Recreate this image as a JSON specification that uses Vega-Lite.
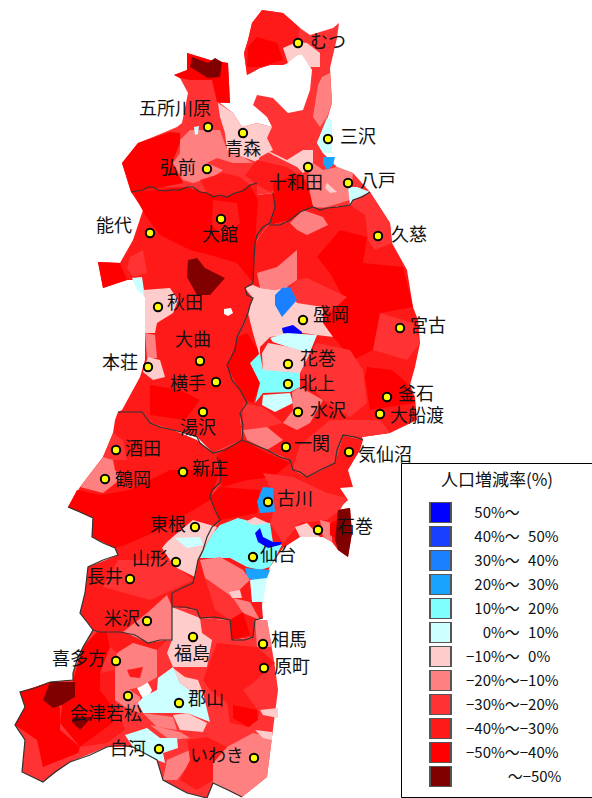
{"$schema":"https://vega.github.io/schema/vega-lite/v6.json","width":592,"height":798,"padding":0,"autosize":"none","background":"white","view":{"stroke":null},
"projection":{"type":"identity","scale":1,"translate":[0,0]},
"config":{"view":{"stroke":null},"font":"Noto Sans CJK JP"},
"datasets":{
"regions":[
{"type":"Feature","properties":{"band":"-30--20","name":"Aomori"},"geometry":{"type":"Polygon","coordinates":[[[131,192],[122,163],[138,143],[153,137],[177,127],[182,123],[188,93],[180,78],[174,75],[187,70],[187,53],[210,60],[228,63],[230,103],[220,103],[233,113],[242,127],[257,123],[272,127],[267,117],[253,105],[257,95],[273,98],[288,113],[303,110],[310,90],[312,70],[303,55],[297,55],[288,62],[283,65],[270,65],[260,68],[247,75],[244,53],[248,40],[252,23],[262,10],[283,13],[300,28],[310,35],[333,28],[339,23],[337,38],[330,68],[332,103],[327,120],[317,143],[323,153],[337,167],[353,173],[370,192],[350,205],[327,208],[313,207],[290,220],[270,225],[275,207],[273,193],[257,195],[257,183],[250,185],[227,197],[207,193],[187,187],[153,187],[131,192]]]}},
{"type":"Feature","properties":{"band":"-40--30","name":"Iwate"},"geometry":{"type":"Polygon","coordinates":[[[370,192],[390,223],[392,243],[407,270],[413,307],[418,320],[420,343],[415,367],[410,385],[415,397],[417,420],[390,433],[362,437],[363,440],[343,435],[335,463],[307,477],[293,470],[290,460],[267,450],[242,440],[240,413],[247,403],[227,367],[237,337],[248,313],[253,298],[245,288],[253,283],[255,243],[268,225],[270,225],[290,220],[313,207],[327,208],[350,205],[370,192]]]}},
{"type":"Feature","properties":{"band":"-40--30","name":"Akita"},"geometry":{"type":"Polygon","coordinates":[[[131,192],[143,210],[133,240],[120,263],[98,262],[103,288],[127,280],[133,280],[145,297],[145,360],[140,377],[122,410],[118,412],[142,412],[150,423],[173,430],[197,437],[213,453],[242,440],[240,413],[247,403],[227,367],[237,337],[248,313],[253,298],[245,288],[253,283],[255,243],[268,225],[270,225],[275,207],[273,193],[257,195],[257,183],[250,185],[227,197],[207,193],[187,187],[153,187],[131,192]],[[224,309],[231,308],[233,313],[228,316],[224,314],[224,309]]]}},
{"type":"Feature","properties":{"band":"-40--30","name":"Miyagi"},"geometry":{"type":"Polygon","coordinates":[[[363,440],[360,450],[348,470],[353,487],[340,488],[348,500],[337,510],[350,508],[352,533],[348,557],[338,550],[332,542],[323,537],[300,537],[283,548],[270,567],[263,583],[262,607],[263,618],[255,620],[253,637],[232,640],[230,620],[200,618],[197,610],[172,607],[172,593],[193,583],[198,560],[207,537],[220,520],[210,497],[220,483],[217,457],[242,440],[267,450],[290,460],[293,470],[307,477],[335,463],[343,435],[363,440]]]}},
{"type":"Feature","properties":{"band":"-40--30","name":"Yamagata"},"geometry":{"type":"Polygon","coordinates":[[[118,412],[115,420],[113,433],[103,457],[80,487],[68,507],[93,518],[92,537],[115,548],[118,555],[88,567],[85,593],[80,613],[93,630],[100,632],[120,632],[148,643],[172,640],[172,607],[172,593],[193,583],[198,560],[207,537],[220,520],[210,497],[220,483],[217,457],[242,440],[213,453],[197,440],[173,430],[150,423],[142,412],[118,412]]]}},
{"type":"Feature","properties":{"band":"-30--20","name":"Fukushima"},"geometry":{"type":"Polygon","coordinates":[[[93,630],[83,647],[73,673],[73,680],[50,682],[20,692],[25,707],[15,725],[25,740],[22,772],[43,782],[70,762],[107,747],[133,747],[157,760],[163,780],[187,793],[207,798],[213,783],[242,797],[267,777],[272,737],[278,690],[275,667],[267,620],[255,620],[253,637],[232,640],[230,620],[200,618],[197,610],[172,607],[172,640],[148,643],[120,632],[100,632],[93,630]],[[137,688],[147,681],[152,690],[148,698],[142,697],[137,688]]]}},
{"type":"Feature","properties":{"band":"-40--30"},"geometry":{"type":"Polygon","coordinates":[[[262,10],[283,13],[300,28],[297,42],[283,48],[288,63],[283,65],[270,65],[260,68],[247,75],[244,53],[248,40],[252,23],[262,10]]]}},
{"type":"Feature","properties":{"band":"-50--40"},"geometry":{"type":"Polygon","coordinates":[[[257,37],[248,47],[247,67],[260,67],[283,60],[277,43],[257,37]]]}},
{"type":"Feature","properties":{"band":"-10-0"},"geometry":{"type":"Polygon","coordinates":[[[283,48],[297,42],[307,43],[320,53],[320,67],[310,67],[302,55],[297,55],[288,63],[283,48]]]}},
{"type":"Feature","properties":{"band":"-50--40"},"geometry":{"type":"Polygon","coordinates":[[[174,75],[187,70],[187,53],[210,60],[228,63],[230,103],[217,102],[212,80],[190,80],[180,78],[174,75]]]}},
{"type":"Feature","properties":{"band":"-50-"},"geometry":{"type":"Polygon","coordinates":[[[192,57],[190,67],[208,78],[220,77],[222,62],[215,58],[208,63],[200,60],[192,57]]]}},
{"type":"Feature","properties":{"band":"-50--40"},"geometry":{"type":"Polygon","coordinates":[[[131,192],[122,163],[138,143],[170,132],[180,133],[180,143],[172,163],[183,183],[163,187],[131,192]]]}},
{"type":"Feature","properties":{"band":"-20--10"},"geometry":{"type":"Polygon","coordinates":[[[180,140],[190,130],[220,130],[227,150],[243,157],[253,163],[233,163],[217,158],[207,163],[223,170],[213,177],[193,183],[183,180],[173,163],[180,153],[180,140]]]}},
{"type":"Feature","properties":{"band":"-10-0"},"geometry":{"type":"Polygon","coordinates":[[[218,103],[233,113],[242,127],[257,123],[272,127],[267,138],[273,150],[260,157],[257,162],[243,157],[227,150],[225,133],[220,117],[218,103]]]}},
{"type":"Feature","properties":{"band":"-10-0"},"geometry":{"type":"Polygon","coordinates":[[[260,147],[287,160],[303,150],[313,150],[313,163],[303,173],[297,167],[273,155],[260,147]]]}},
{"type":"Feature","properties":{"band":"0-10"},"geometry":{"type":"Polygon","coordinates":[[[194,127],[199,126],[198,134],[195,135],[194,127]]]}},
{"type":"Feature","properties":{"band":"-40--30"},"geometry":{"type":"Polygon","coordinates":[[[200,180],[223,173],[240,177],[250,185],[227,197],[207,193],[200,180]]]}},
{"type":"Feature","properties":{"band":"-40--30"},"geometry":{"type":"Polygon","coordinates":[[[257,160],[287,167],[300,177],[270,192],[257,185],[245,175],[257,160]]]}},
{"type":"Feature","properties":{"band":"-20--10"},"geometry":{"type":"Polygon","coordinates":[[[313,117],[318,85],[322,77],[330,73],[332,103],[327,117],[320,127],[313,117]]]}},
{"type":"Feature","properties":{"band":"-20--10"},"geometry":{"type":"Polygon","coordinates":[[[307,177],[313,163],[323,170],[337,167],[353,173],[350,200],[327,207],[313,207],[307,177]]]}},
{"type":"Feature","properties":{"band":"-10-0"},"geometry":{"type":"Polygon","coordinates":[[[327,183],[337,192],[330,193],[325,188],[327,183]]]}},
{"type":"Feature","properties":{"band":"0-10"},"geometry":{"type":"Polygon","coordinates":[[[348,187],[357,187],[370,192],[353,200],[350,205],[348,187]]]}},
{"type":"Feature","properties":{"band":"0-10"},"geometry":{"type":"Polygon","coordinates":[[[327,118],[332,120],[332,153],[323,153],[317,143],[322,130],[327,118]]]}},
{"type":"Feature","properties":{"band":"20-30"},"geometry":{"type":"Polygon","coordinates":[[[323,157],[335,157],[333,165],[327,170],[323,163],[323,157]]]}},
{"type":"Feature","properties":{"band":"-50--40"},"geometry":{"type":"Polygon","coordinates":[[[273,183],[300,173],[307,183],[313,207],[290,220],[270,225],[275,207],[273,183]]]}},
{"type":"Feature","properties":{"band":"-50--40"},"geometry":{"type":"Polygon","coordinates":[[[133,192],[187,187],[207,193],[227,197],[250,185],[258,200],[255,243],[253,283],[237,263],[210,255],[190,250],[160,235],[145,215],[133,192]]]}},
{"type":"Feature","properties":{"band":"-40--30"},"geometry":{"type":"Polygon","coordinates":[[[213,200],[237,203],[240,223],[223,237],[212,225],[213,200]]]}},
{"type":"Feature","properties":{"band":"-30--20"},"geometry":{"type":"Polygon","coordinates":[[[130,257],[143,250],[147,273],[133,277],[127,268],[130,257]]]}},
{"type":"Feature","properties":{"band":"-50--40"},"geometry":{"type":"Polygon","coordinates":[[[98,262],[120,263],[127,280],[103,288],[98,262]]]}},
{"type":"Feature","properties":{"band":"-50-"},"geometry":{"type":"Polygon","coordinates":[[[188,260],[197,258],[205,268],[225,278],[210,295],[197,295],[187,277],[188,260]]]}},
{"type":"Feature","properties":{"band":"0-10"},"geometry":{"type":"Polygon","coordinates":[[[132,278],[142,277],[145,297],[137,290],[132,278]]]}},
{"type":"Feature","properties":{"band":"-10-0"},"geometry":{"type":"Polygon","coordinates":[[[143,290],[170,288],[178,300],[173,313],[157,323],[155,333],[145,333],[145,297],[143,290]]]}},
{"type":"Feature","properties":{"band":"-20--10"},"geometry":{"type":"Polygon","coordinates":[[[145,333],[155,335],[157,358],[147,358],[145,333]]]}},
{"type":"Feature","properties":{"band":"-10-0"},"geometry":{"type":"Polygon","coordinates":[[[148,357],[160,360],[165,377],[153,380],[143,372],[148,357]]]}},
{"type":"Feature","properties":{"band":"-50--40"},"geometry":{"type":"Polygon","coordinates":[[[150,385],[180,390],[200,400],[185,420],[150,415],[150,385]]]}},
{"type":"Feature","properties":{"band":"-30--20"},"geometry":{"type":"Polygon","coordinates":[[[350,205],[370,192],[390,223],[392,243],[375,250],[368,240],[365,215],[350,205]]]}},
{"type":"Feature","properties":{"band":"-50--40"},"geometry":{"type":"Polygon","coordinates":[[[317,257],[340,230],[367,237],[363,263],[403,267],[413,307],[380,313],[373,350],[353,360],[333,337],[323,323],[343,297],[330,273],[317,257]]]}},
{"type":"Feature","properties":{"band":"-20--10"},"geometry":{"type":"Polygon","coordinates":[[[290,223],[303,210],[323,217],[328,225],[307,235],[297,230],[290,223]]]}},
{"type":"Feature","properties":{"band":"-20--10"},"geometry":{"type":"Polygon","coordinates":[[[257,273],[277,267],[297,250],[297,280],[287,287],[275,290],[260,288],[257,273]]]}},
{"type":"Feature","properties":{"band":"-30--20"},"geometry":{"type":"Polygon","coordinates":[[[297,280],[307,278],[347,297],[333,310],[297,303],[290,287],[297,280]]]}},
{"type":"Feature","properties":{"band":"-30--20"},"geometry":{"type":"Polygon","coordinates":[[[317,343],[350,350],[363,370],[367,403],[350,417],[323,400],[300,373],[310,353],[317,343]]]}},
{"type":"Feature","properties":{"band":"-30--20"},"geometry":{"type":"Polygon","coordinates":[[[380,313],[413,323],[420,343],[407,360],[373,350],[380,313]]]}},
{"type":"Feature","properties":{"band":"-50--40"},"geometry":{"type":"Polygon","coordinates":[[[367,367],[392,370],[407,383],[415,403],[370,410],[365,377],[367,367]]]}},
{"type":"Feature","properties":{"band":"-30--20"},"geometry":{"type":"Polygon","coordinates":[[[330,420],[380,420],[390,433],[362,437],[343,435],[335,463],[307,477],[293,468],[300,445],[330,420]]]}},
{"type":"Feature","properties":{"band":"-10-0"},"geometry":{"type":"Polygon","coordinates":[[[245,288],[253,285],[260,288],[275,290],[287,287],[297,303],[323,307],[323,323],[333,337],[317,335],[303,333],[270,337],[260,347],[260,357],[253,333],[248,313],[253,298],[245,288]]]}},
{"type":"Feature","properties":{"band":"30-40"},"geometry":{"type":"Polygon","coordinates":[[[275,295],[282,288],[290,287],[297,300],[290,308],[282,317],[275,305],[275,295]]]}},
{"type":"Feature","properties":{"band":"50+"},"geometry":{"type":"Polygon","coordinates":[[[282,328],[293,325],[302,332],[302,336],[290,335],[283,333],[282,328]]]}},
{"type":"Feature","properties":{"band":"0-10"},"geometry":{"type":"Polygon","coordinates":[[[270,338],[287,333],[317,335],[310,352],[297,350],[273,342],[270,338]]]}},
{"type":"Feature","properties":{"band":"-10-0"},"geometry":{"type":"Polygon","coordinates":[[[268,343],[290,347],[310,353],[300,373],[263,373],[262,353],[268,343]]]}},
{"type":"Feature","properties":{"band":"-50--40"},"geometry":{"type":"Polygon","coordinates":[[[247,333],[258,350],[260,383],[253,403],[245,400],[227,367],[237,337],[247,333]]]}},
{"type":"Feature","properties":{"band":"10-20"},"geometry":{"type":"Polygon","coordinates":[[[260,353],[263,370],[300,373],[300,387],[290,392],[263,393],[255,403],[260,383],[250,363],[260,353]]]}},
{"type":"Feature","properties":{"band":"0-10"},"geometry":{"type":"Polygon","coordinates":[[[263,395],[290,393],[293,403],[275,412],[262,405],[263,395]]]}},
{"type":"Feature","properties":{"band":"-20--10"},"geometry":{"type":"Polygon","coordinates":[[[292,392],[300,387],[323,400],[310,423],[297,430],[283,423],[293,410],[292,392]]]}},
{"type":"Feature","properties":{"band":"-30--20"},"geometry":{"type":"Polygon","coordinates":[[[243,403],[263,407],[283,423],[267,427],[243,430],[243,403]]]}},
{"type":"Feature","properties":{"band":"-20--10"},"geometry":{"type":"Polygon","coordinates":[[[243,430],[267,427],[283,440],[267,450],[247,440],[243,430]]]}},
{"type":"Feature","properties":{"band":"-50--40"},"geometry":{"type":"Polygon","coordinates":[[[217,455],[242,440],[267,453],[290,463],[273,477],[247,480],[222,487],[217,455]]]}},
{"type":"Feature","properties":{"band":"-50--40"},"geometry":{"type":"Polygon","coordinates":[[[220,487],[260,490],[257,513],[237,517],[220,520],[210,497],[220,487]]]}},
{"type":"Feature","properties":{"band":"-30--20"},"geometry":{"type":"Polygon","coordinates":[[[263,473],[293,477],[327,493],[347,498],[340,510],[327,520],[300,523],[283,543],[270,523],[273,513],[275,497],[263,473]]]}},
{"type":"Feature","properties":{"band":"20-30"},"geometry":{"type":"Polygon","coordinates":[[[263,487],[273,488],[275,512],[260,513],[257,502],[263,487]]]}},
{"type":"Feature","properties":{"band":"-20--10"},"geometry":{"type":"Polygon","coordinates":[[[320,520],[332,523],[332,542],[323,537],[320,520]]]}},
{"type":"Feature","properties":{"band":"-10-0"},"geometry":{"type":"Polygon","coordinates":[[[295,527],[307,523],[320,537],[300,537],[295,527]]]}},
{"type":"Feature","properties":{"band":"-50--40"},"geometry":{"type":"Polygon","coordinates":[[[330,523],[338,520],[337,540],[330,535],[330,523]]]}},
{"type":"Feature","properties":{"band":"-50-"},"geometry":{"type":"Polygon","coordinates":[[[338,510],[350,508],[352,533],[348,557],[338,550],[335,540],[338,510]]]}},
{"type":"Feature","properties":{"band":"10-20"},"geometry":{"type":"Polygon","coordinates":[[[213,533],[220,525],[238,518],[253,522],[270,523],[273,543],[282,545],[270,567],[260,570],[247,567],[230,558],[200,558],[207,543],[213,533]]]}},
{"type":"Feature","properties":{"band":"-10-0"},"geometry":{"type":"Polygon","coordinates":[[[245,522],[255,517],[268,523],[255,525],[245,522]]]}},
{"type":"Feature","properties":{"band":"50+"},"geometry":{"type":"Polygon","coordinates":[[[255,533],[260,528],[263,537],[273,542],[282,542],[280,545],[268,548],[258,542],[255,533]]]}},
{"type":"Feature","properties":{"band":"20-30"},"geometry":{"type":"Polygon","coordinates":[[[245,568],[270,570],[267,578],[257,583],[247,577],[245,568]]]}},
{"type":"Feature","properties":{"band":"0-10"},"geometry":{"type":"Polygon","coordinates":[[[250,580],[267,578],[263,602],[252,602],[250,580]]]}},
{"type":"Feature","properties":{"band":"-20--10"},"geometry":{"type":"Polygon","coordinates":[[[200,560],[220,557],[243,570],[250,580],[232,597],[205,578],[200,560]]]}},
{"type":"Feature","properties":{"band":"-30--20"},"geometry":{"type":"Polygon","coordinates":[[[205,578],[232,597],[243,613],[230,620],[215,610],[205,578]]]}},
{"type":"Feature","properties":{"band":"-20--10"},"geometry":{"type":"Polygon","coordinates":[[[233,598],[250,602],[260,620],[243,613],[233,598]]]}},
{"type":"Feature","properties":{"band":"-10-0"},"geometry":{"type":"Polygon","coordinates":[[[229,592],[240,590],[242,598],[232,598],[229,592]]]}},
{"type":"Feature","properties":{"band":"-50--40"},"geometry":{"type":"Polygon","coordinates":[[[230,620],[243,612],[250,635],[232,640],[230,620]]]}},
{"type":"Feature","properties":{"band":"-30--20"},"geometry":{"type":"Polygon","coordinates":[[[113,433],[123,440],[127,460],[113,460],[103,457],[113,433]]]}},
{"type":"Feature","properties":{"band":"-20--10"},"geometry":{"type":"Polygon","coordinates":[[[103,457],[113,460],[115,470],[122,478],[103,493],[80,487],[103,457]]]}},
{"type":"Feature","properties":{"band":"-50--40"},"geometry":{"type":"Polygon","coordinates":[[[77,490],[100,495],[130,490],[170,470],[220,470],[210,500],[160,530],[125,545],[115,548],[92,537],[93,518],[68,507],[77,490]]]}},
{"type":"Feature","properties":{"band":"-30--20"},"geometry":{"type":"Polygon","coordinates":[[[118,560],[170,560],[193,580],[172,590],[150,600],[103,587],[118,560]]]}},
{"type":"Feature","properties":{"band":"-10-0"},"geometry":{"type":"Polygon","coordinates":[[[193,520],[217,527],[207,543],[198,560],[195,577],[177,568],[170,560],[162,548],[167,542],[175,535],[193,520]]]}},
{"type":"Feature","properties":{"band":"0-10"},"geometry":{"type":"Polygon","coordinates":[[[175,538],[200,537],[203,545],[187,548],[175,538]]]}},
{"type":"Feature","properties":{"band":"-20--10"},"geometry":{"type":"Polygon","coordinates":[[[123,632],[147,613],[167,595],[172,607],[172,640],[148,643],[123,632]]]}},
{"type":"Feature","properties":{"band":"-50--40"},"geometry":{"type":"Polygon","coordinates":[[[20,692],[50,682],[43,700],[60,707],[60,730],[80,747],[78,753],[43,767],[37,740],[15,725],[25,707],[20,692]]]}},
{"type":"Feature","properties":{"band":"-50--40"},"geometry":{"type":"Polygon","coordinates":[[[83,647],[97,632],[107,632],[110,647],[100,673],[100,690],[110,703],[113,723],[80,747],[60,723],[62,705],[75,697],[73,680],[83,647]]]}},
{"type":"Feature","properties":{"band":"-50-"},"geometry":{"type":"Polygon","coordinates":[[[50,682],[75,682],[75,697],[62,705],[53,708],[43,700],[50,682]]]}},
{"type":"Feature","properties":{"band":"-50-"},"geometry":{"type":"Polygon","coordinates":[[[73,717],[92,717],[80,730],[72,722],[73,717]]]}},
{"type":"Feature","properties":{"band":"-40--30"},"geometry":{"type":"Polygon","coordinates":[[[100,673],[115,670],[115,700],[125,730],[107,743],[80,747],[113,723],[110,703],[100,690],[100,673]]]}},
{"type":"Feature","properties":{"band":"-40--30"},"geometry":{"type":"Polygon","coordinates":[[[107,632],[123,632],[148,643],[167,640],[157,650],[133,643],[117,653],[110,647],[107,632]]]}},
{"type":"Feature","properties":{"band":"-20--10"},"geometry":{"type":"Polygon","coordinates":[[[117,653],[133,643],[157,650],[157,677],[140,687],[127,690],[115,700],[115,670],[117,653]]]}},
{"type":"Feature","properties":{"band":"-40--30"},"geometry":{"type":"Polygon","coordinates":[[[127,670],[143,667],[140,678],[130,677],[127,670]]]}},
{"type":"Feature","properties":{"band":"-10-0"},"geometry":{"type":"Polygon","coordinates":[[[172,607],[200,618],[202,633],[212,640],[207,667],[173,667],[167,653],[172,640],[172,607]]]}},
{"type":"Feature","properties":{"band":"-20--10"},"geometry":{"type":"Polygon","coordinates":[[[118,688],[127,688],[140,697],[140,713],[125,707],[115,700],[118,688]]]}},
{"type":"Feature","properties":{"band":"-10-0"},"geometry":{"type":"Polygon","coordinates":[[[173,668],[185,677],[198,680],[203,693],[190,690],[180,683],[173,668]]]}},
{"type":"Feature","properties":{"band":"0-10"},"geometry":{"type":"Polygon","coordinates":[[[158,678],[173,667],[180,683],[190,690],[203,693],[210,722],[187,713],[167,713],[143,713],[138,703],[143,697],[157,690],[158,678]]]}},
{"type":"Feature","properties":{"band":"-10-0"},"geometry":{"type":"Polygon","coordinates":[[[173,715],[187,713],[207,723],[203,732],[180,730],[173,715]]]}},
{"type":"Feature","properties":{"band":"-20--10"},"geometry":{"type":"Polygon","coordinates":[[[143,713],[173,717],[177,730],[157,727],[143,713]]]}},
{"type":"Feature","properties":{"band":"-20--10"},"geometry":{"type":"Polygon","coordinates":[[[150,725],[180,732],[190,738],[170,740],[150,725]]]}},
{"type":"Feature","properties":{"band":"0-10"},"geometry":{"type":"Polygon","coordinates":[[[125,735],[147,728],[160,738],[177,738],[178,748],[163,753],[165,763],[157,760],[133,747],[125,735]]]}},
{"type":"Feature","properties":{"band":"-20--10"},"geometry":{"type":"Polygon","coordinates":[[[227,747],[253,733],[272,737],[267,777],[242,797],[213,783],[213,763],[227,747]]]}},
{"type":"Feature","properties":{"band":"-20--10"},"geometry":{"type":"Polygon","coordinates":[[[167,760],[190,750],[190,763],[177,780],[163,780],[167,760]]]}},
{"type":"Feature","properties":{"band":"-40--30"},"geometry":{"type":"Polygon","coordinates":[[[187,740],[207,737],[227,747],[213,763],[213,780],[197,790],[180,780],[190,760],[187,740]]]}},
{"type":"Feature","properties":{"band":"-40--30"},"geometry":{"type":"Polygon","coordinates":[[[203,680],[217,643],[257,647],[275,663],[253,683],[243,690],[260,713],[250,727],[230,723],[227,703],[210,690],[203,680]]]}},
{"type":"Feature","properties":{"band":"-50--40"},"geometry":{"type":"Polygon","coordinates":[[[233,705],[257,710],[258,720],[248,727],[233,718],[233,705]]]}},
{"type":"Feature","properties":{"band":"-10-0"},"geometry":{"type":"Polygon","coordinates":[[[260,710],[278,708],[278,718],[263,715],[260,710]]]}},
{"type":"Feature","properties":{"band":"-10-0"},"geometry":{"type":"Polygon","coordinates":[[[255,730],[272,732],[272,740],[263,738],[255,730]]]}},
{"type":"Feature","properties":{"band":"-20--10"},"geometry":{"type":"Polygon","coordinates":[[[255,620],[267,620],[272,647],[257,647],[255,620]]]}}
],
"borders":[
{"type":"Feature","properties":{"name":"Aomori-Akita"},"geometry":{"type":"LineString","coordinates":[[131,192],[137,191],[143,190],[148,187],[153,187],[158,190],[165,191],[172,190],[180,190],[187,187],[193,187],[200,192],[207,193],[213,197],[220,195],[227,197],[235,193],[243,191],[250,185],[257,183]]}},
{"type":"Feature","properties":{"name":"Akita-Iwate"},"geometry":{"type":"LineString","coordinates":[[273,193],[275,207],[270,223],[263,227],[257,235],[255,243],[254,260],[253,283],[245,288],[247,295],[253,298],[250,305],[248,313],[243,325],[237,337],[235,350],[227,365],[232,380],[240,390],[247,403],[240,413],[243,425],[242,440]]}},
{"type":"Feature","properties":{"name":"Aomori-Iwate"},"geometry":{"type":"LineString","coordinates":[[270,225],[280,225],[290,220],[300,212],[313,207],[320,210],[327,208],[338,207],[350,205],[353,200],[362,197],[370,192]]}},
{"type":"Feature","properties":{"name":"Akita-Yamagata"},"geometry":{"type":"LineString","coordinates":[[118,412],[130,412],[142,412],[150,423],[160,427],[173,430],[185,433],[197,437],[200,443],[213,453],[225,450],[242,440]]}},
{"type":"Feature","properties":{"name":"Iwate-Miyagi"},"geometry":{"type":"LineString","coordinates":[[242,440],[255,445],[267,450],[280,457],[290,460],[293,470],[300,472],[307,477],[320,470],[335,463],[337,450],[343,435],[355,437],[363,440]]}},
{"type":"Feature","properties":{"name":"Yamagata-Miyagi"},"geometry":{"type":"LineString","coordinates":[[217,457],[220,470],[220,483],[212,490],[210,497],[215,510],[220,520],[212,527],[207,537],[203,550],[198,560],[195,575],[193,583],[182,588],[172,593],[172,607]]}},
{"type":"Feature","properties":{"name":"Yamagata-Fukushima"},"geometry":{"type":"LineString","coordinates":[[172,607],[172,640],[160,640],[148,643],[135,635],[120,632],[100,632],[93,630]]}},
{"type":"Feature","properties":{"name":"Miyagi-Fukushima"},"geometry":{"type":"LineString","coordinates":[[172,607],[185,607],[197,610],[200,618],[215,617],[230,620],[232,640],[245,640],[253,637],[255,620],[263,618]]}},
{"type":"Feature","properties":{"name":"West"},"geometry":{"type":"LineString","coordinates":[[68,507],[80,512],[93,518],[92,537],[103,543],[115,548],[118,555],[103,560],[88,567],[85,593],[80,613],[87,622],[93,630],[83,647],[77,660],[73,673],[73,680],[50,682],[35,688],[20,692],[25,707],[15,725],[25,740],[22,772],[43,782],[55,772],[70,762],[90,755],[107,747],[120,745],[133,747],[157,760],[163,780],[187,793],[207,798],[213,783],[228,790],[242,797]]}}
],
"cities":[
{"city":"むつ","east":298,"south":43},{"city":"五所川原","east":208,"south":127},{"city":"青森","east":243,"south":133},{"city":"三沢","east":328,"south":139},{"city":"弘前","east":207,"south":169},{"city":"十和田","east":308,"south":167},{"city":"八戸","east":348,"south":183},{"city":"能代","east":150,"south":233},{"city":"大館","east":221,"south":219},{"city":"久慈","east":378,"south":236},{"city":"秋田","east":158,"south":307},{"city":"盛岡","east":303,"south":320},{"city":"宮古","east":400,"south":328},{"city":"大曲","east":200,"south":361},{"city":"本荘","east":148,"south":367},{"city":"花巻","east":288,"south":364},{"city":"横手","east":216,"south":382},{"city":"北上","east":288,"south":384},{"city":"釜石","east":387,"south":397},{"city":"湯沢","east":203,"south":412},{"city":"水沢","east":298,"south":412},{"city":"大船渡","east":380,"south":414},{"city":"一関","east":286,"south":447},{"city":"気仙沼","east":349,"south":452},{"city":"酒田","east":116,"south":450},{"city":"新庄","east":183,"south":472},{"city":"鶴岡","east":105,"south":479},{"city":"古川","east":268,"south":502},{"city":"東根","east":195,"south":527},{"city":"石巻","east":318,"south":530},{"city":"仙台","east":253,"south":557},{"city":"山形","east":176,"south":562},{"city":"長井","east":130,"south":579},{"city":"米沢","east":147,"south":621},{"city":"相馬","east":263,"south":644},{"city":"福島","east":193,"south":637},{"city":"喜多方","east":116,"south":661},{"city":"原町","east":264,"south":668},{"city":"会津若松","east":128,"south":696},{"city":"郡山","east":179,"south":703},{"city":"白河","east":159,"south":749},{"city":"いわき","east":254,"south":758}
],
"labels":[
{"city":"むつ","east":328,"south":43},{"city":"五所川原","east":175,"south":110},{"city":"青森","east":243,"south":150},{"city":"三沢","east":358,"south":138},{"city":"弘前","east":178,"south":169},{"city":"十和田","east":296,"south":184},{"city":"八戸","east":378,"south":182},{"city":"能代","east":114,"south":227},{"city":"大館","east":220,"south":236},{"city":"久慈","east":409,"south":236},{"city":"秋田","east":185,"south":304},{"city":"盛岡","east":331,"south":316},{"city":"宮古","east":428,"south":327},{"city":"大曲","east":193,"south":341},{"city":"本荘","east":120,"south":364},{"city":"花巻","east":318,"south":360},{"city":"横手","east":188,"south":385},{"city":"北上","east":317,"south":385},{"city":"釜石","east":416,"south":395},{"city":"湯沢","east":198,"south":429},{"city":"水沢","east":328,"south":412},{"city":"大船渡","east":417,"south":417},{"city":"一関","east":312,"south":445},{"city":"気仙沼","east":385,"south":456},{"city":"酒田","east":143,"south":450},{"city":"新庄","east":210,"south":470},{"city":"鶴岡","east":133,"south":481},{"city":"古川","east":295,"south":500},{"city":"東根","east":168,"south":526},{"city":"石巻","east":355,"south":528},{"city":"仙台","east":278,"south":556},{"city":"山形","east":150,"south":560},{"city":"長井","east":105,"south":578},{"city":"米沢","east":122,"south":620},{"city":"相馬","east":289,"south":641},{"city":"福島","east":192,"south":655},{"city":"喜多方","east":79,"south":660},{"city":"原町","east":292,"south":668},{"city":"会津若松","east":106,"south":715},{"city":"郡山","east":206,"south":700},{"city":"白河","east":128,"south":750},{"city":"いわき","east":217,"south":757}
]
},
"layer":[
{"data":{"name":"regions"},"mark":{"type":"geoshape"},"encoding":{"color":{"field":"properties.band","type":"nominal","sort":null,"scale":{"domain":["50+","40-50","30-40","20-30","10-20","0-10","-10-0","-20--10","-30--20","-40--30","-50--40","-50-"],"range":["#0000ff","#1a40ff","#1a80ff","#19a3ff","#80ffff","#ccffff","#ffcccc","#ff8080","#ff3333","#ff1a1a","#ff0000","#800000"]},
"legend":{"title":"人口増減率(%)","orient":"none","legendX":401,"legendY":463,"fillColor":"white","strokeColor":"black","padding":10,"titleFont":"Noto Sans CJK JP","titleFontSize":17,"titleFontWeight":"normal","titleColor":"#111","titleAnchor":"middle","titlePadding":12,"labelFont":"Noto Sans CJK JP","labelFontSize":15,"labelColor":"#111","labelOffset":14,"labelLimit":200,"symbolType":"square","symbolSize":441,"symbolOffset":18,"symbolStrokeColor":"#555","symbolStrokeWidth":2,"clipHeight":21,"rowPadding":3,"symbolOpacity":1,
"labelExpr":"{'50+':'\u200b\u200750%～','40-50':'\u200b\u200740%～\u200750%','30-40':'\u200b\u200730%～\u200740%','20-30':'\u200b\u200720%～\u200730%','10-20':'\u200b\u200710%～\u200720%','0-10':'\u200b\u2007\u20070%～\u200710%','-10-0':'−10%～\u20070%','-20--10':'−20%～−10%\u2007\u2007\u2007\u200b','-30--20':'−30%～−20%','-40--30':'−40%～−30%','-50--40':'−50%～−40%','-50-':'\u200b\u2007\u2007\u2007\u2007\u2007～−50%'}[datum.label]"}}}},
{"data":{"name":"borders"},"mark":{"type":"geoshape","filled":false,"stroke":"#333333","strokeWidth":1.2},"encoding":{}},
{"data":{"name":"cities"},"mark":{"type":"circle","fill":"#ffff00","stroke":"black","strokeWidth":2,"size":70,"opacity":1},"encoding":{"longitude":{"field":"east","type":"quantitative"},"latitude":{"field":"south","type":"quantitative"}}},
{"data":{"name":"labels"},"mark":{"type":"text","font":"Noto Sans CJK JP","fontSize":18,"color":"#111","align":"center","baseline":"middle"},"encoding":{"longitude":{"field":"east","type":"quantitative"},"latitude":{"field":"south","type":"quantitative"},"text":{"field":"city","type":"nominal"}}}
]}
